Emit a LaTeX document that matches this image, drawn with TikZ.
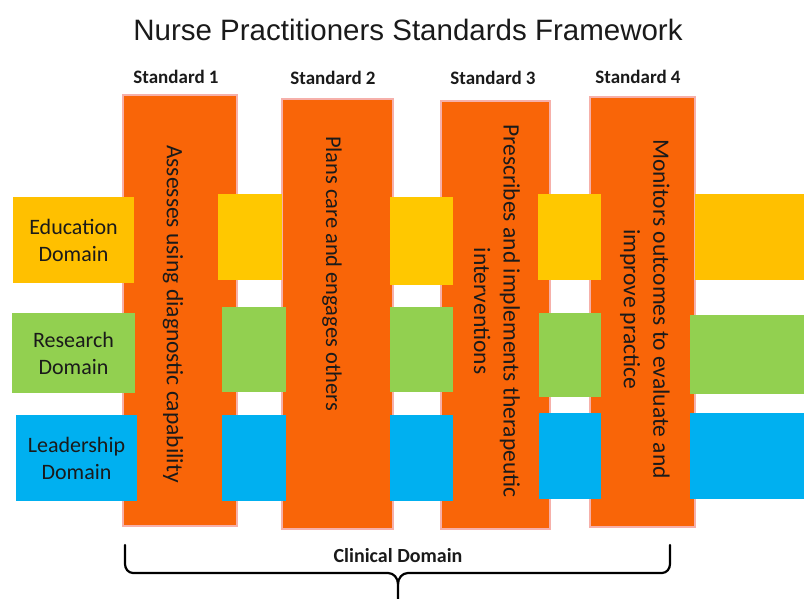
\documentclass[tikz,border=0pt]{standalone}
\usepackage{fontspec}
\setmainfont{Carlito}
\newfontfamily\titlefont{Liberation Sans}
\definecolor{stdorange}{HTML}{F96508}
\definecolor{halo}{RGB}{246,176,170}
\definecolor{eduyellow}{HTML}{FFC000}
\definecolor{midyellow}{HTML}{FFC800}
\definecolor{resgreen}{HTML}{92D050}
\definecolor{leadblue}{HTML}{00B0F0}
\definecolor{ink}{HTML}{1A1A1A}
\tikzset{
  colbox/.style={rectangle, fill=stdorange, draw=halo, line width=1.2pt, inner sep=0pt},
  hbox/.style={rectangle, inner sep=0pt, draw=none},
  edubox/.style={hbox, fill=eduyellow},
  midedu/.style={hbox, fill=midyellow},
  resbox/.style={hbox, fill=resgreen},
  leadbox/.style={hbox, fill=leadblue},
  coltext/.style={rotate=-90, align=center, text=ink, font=\fontsize{23.5}{29.5}\selectfont, inner sep=0pt},
  domtext/.style={align=center, text=ink, font=\fontsize{22}{27}\selectfont, inner sep=0pt},
  stdlabel/.style={text=ink, font=\fontsize{19}{21}\selectfont\bfseries, inner sep=0pt},
  bracestyle/.style={draw=black, line width=2.2pt, line join=round, line cap=round},
}
\begin{document}
\begin{tikzpicture}[x=1pt,y=-1pt]
\useasboundingbox (0,0) rectangle (804,599);
% title
\node[font=\titlefont\fontsize{29.5}{33}\selectfont, text=ink, inner sep=0pt] (title) at (408,30) {Nurse Practitioners Standards Framework};
% standard labels
\node[stdlabel] (lab1) at (176,77) {Standard 1};
\node[stdlabel] (lab2) at (333,78) {Standard 2};
\node[stdlabel] (lab3) at (493,78) {Standard 3};
\node[stdlabel] (lab4) at (638,77) {Standard 4};
% columns
\node[colbox, minimum width=114pt, minimum height=431pt] (s1) at (180,310.5) {};
\node[colbox, minimum width=111pt, minimum height=430pt] (s2) at (337.5,314) {};
\node[colbox, minimum width=109pt, minimum height=428pt] (s3) at (495.5,315) {};
\node[colbox, minimum width=105pt, minimum height=430pt] (s4) at (642.5,312) {};
% education row
\node[edubox, minimum width=121pt, minimum height=86pt] (edu) at (73.5,240) {};
\node[midedu, minimum width=64pt, minimum height=86pt] (e1) at (250,237) {};
\node[midedu, minimum width=63pt, minimum height=88pt] (e2) at (421.5,241) {};
\node[midedu, minimum width=63pt, minimum height=86pt] (e3) at (569.5,237) {};
\node[edubox, minimum width=110pt, minimum height=86pt] (e4) at (750,237) {};
% research row
\node[resbox, minimum width=123pt, minimum height=80pt] (res) at (73.5,353) {};
\node[resbox, minimum width=64pt, minimum height=85pt] (r1) at (254,349.5) {};
\node[resbox, minimum width=63pt, minimum height=85pt] (r2) at (421.5,349.5) {};
\node[resbox, minimum width=62pt, minimum height=84pt] (r3) at (570,355) {};
\node[resbox, minimum width=115pt, minimum height=79pt] (r4) at (747.5,354.5) {};
% leadership row
\node[leadbox, minimum width=121pt, minimum height=86pt] (lead) at (76.5,458) {};
\node[leadbox, minimum width=64pt, minimum height=86pt] (l1) at (254,458) {};
\node[leadbox, minimum width=63pt, minimum height=86pt] (l2) at (421.5,458) {};
\node[leadbox, minimum width=62pt, minimum height=86pt] (l3) at (570,456) {};
\node[leadbox, minimum width=115pt, minimum height=86pt] (l4) at (747.5,456) {};
% domain labels
\node[domtext] (edut) at (edu) {Education\\Domain};
\node[domtext] (rest) at (res) {Research\\Domain};
\node[domtext] (leadt) at (lead) {Leadership\\Domain};
% column texts
\node[coltext] (t1) at (173,314) {Assesses using diagnostic capability};
\node[coltext, font=\fontsize{22.5}{29}\selectfont] (t2) at (332,273.5) {Plans care and engages others};
\node[coltext] (t3) at (497,311) {Prescribes and implements therapeutic\\interventions};
\node[coltext] (t4) at (645,309) {Monitors outcomes to evaluate and\\improve practice};
% clinical domain brace
\coordinate (bl) at (125,545);
\coordinate (br) at (670,545);
\coordinate (btip) at (398,599);
\draw[bracestyle] (bl) -- (125,564) to[out=-90,in=180] (133,573) -- (388,573) to[out=0,in=90] (398,584) -- (btip);
\draw[bracestyle] (398,584) to[out=90,in=180] (408,573) -- (662,573) to[out=0,in=-90] (670,564) -- (br);
\node[font=\fontsize{20}{22}\selectfont\bfseries, text=ink, inner sep=0pt] (clin) at (398,556) {Clinical Domain};
\end{tikzpicture}
\end{document}
